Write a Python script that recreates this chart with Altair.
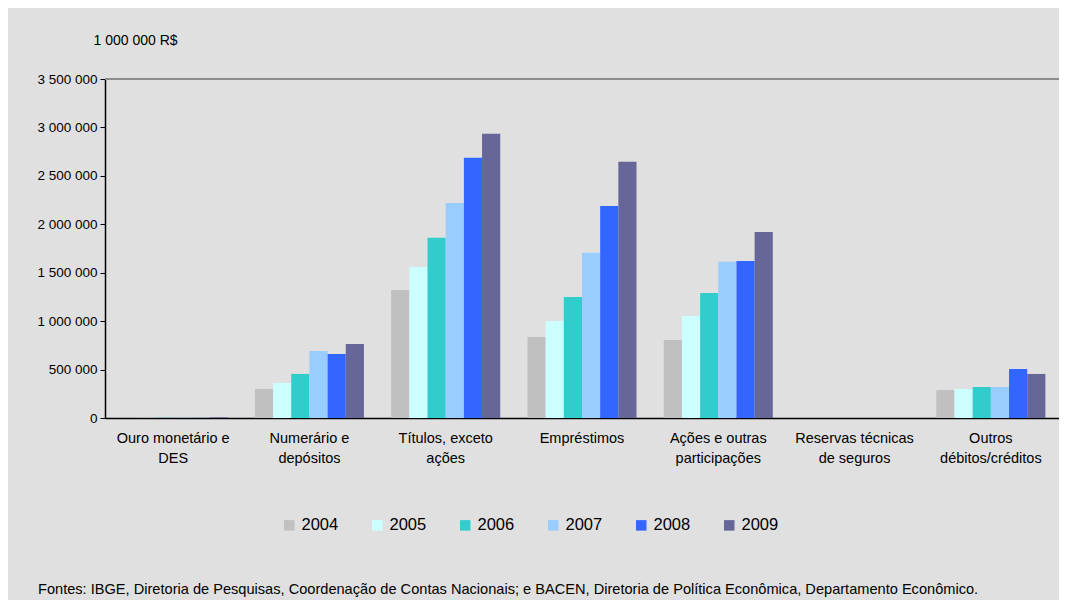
import altair as alt
import pandas as pd

categories = [
    "Ouro monetário e|DES",
    "Numerário e|depósitos",
    "Títulos, exceto|ações",
    "Empréstimos",
    "Ações e outras|participações",
    "Reservas técnicas|de seguros",
    "Outros|débitos/créditos",
]
years = ["2004", "2005", "2006", "2007", "2008", "2009"]
v2004 = [1500, 300000, 1322000, 837000, 806000, 0, 289000]
v2005 = [1500, 362000, 1560000, 1002000, 1054000, 0, 300000]
v2006 = [1500, 455000, 1860000, 1250000, 1291000, 0, 320000]
v2007 = [1500, 692000, 2221000, 1705000, 1612000, 0, 320000]
v2008 = [1500, 661000, 2686000, 2190000, 1622000, 0, 506000]
v2009 = [8000, 764000, 2934000, 2645000, 1921000, 0, 455000]
colors = ["#C0C0C0", "#CCFFFF", "#33CCCC", "#99CCFF", "#3366FF", "#666699"]
y_ticks = [0, 500000, 1000000, 1500000, 2000000, 2500000, 3000000, 3500000]
unit_title = "1 000 000 R$"
footer_text = ("Fontes: IBGE, Diretoria de Pesquisas, Coordenação de Contas Nacionais; "
               "e BACEN, Diretoria de Política Econômica, Departamento Econômico.")

series = [v2004, v2005, v2006, v2007, v2008, v2009]
rows = []
for yr, vals in zip(years, series):
    for cat, v in zip(categories, vals):
        rows.append({"categoria": cat, "ano": yr, "valor": v})
df = pd.DataFrame(rows)

FONT = "Liberation Sans"

bars = alt.Chart(df).mark_bar().encode(
    x=alt.X(
        "categoria:N",
        sort=categories,
        scale=alt.Scale(paddingInner=0.2, paddingOuter=0.1),
        axis=alt.Axis(
            title=None,
            labelExpr="split(datum.label, '|')",
            labelAngle=0,
            labelFontSize=14.5,
            labelColor="black",
            labelPadding=13,
            labelLineHeight=20,
            labelBaseline="top",
            ticks=False,
            domainColor="black",
            domainWidth=1.5,
        ),
    ),
    xOffset=alt.XOffset("ano:N", sort=years),
    y=alt.Y(
        "valor:Q",
        scale=alt.Scale(domain=[0, 3500000], nice=False),
        axis=alt.Axis(
            values=y_ticks,
            grid=False,
            title=unit_title,
            titleAngle=0,
            titleAlign="left",
            titleBaseline="middle",
            titleX=-12,
            titleY=-39,
            titleFontSize=14,
            titleFontWeight="normal",
            titleColor="black",
            labelExpr="replace(format(datum.value, ','), /,/g, ' ')",
            labelFontSize=13.5,
            labelColor="black",
            labelPadding=3,
            tickColor="black",
            tickSize=5,
            domainColor="black",
            domainWidth=1.5,
        ),
    ),
    color=alt.Color(
        "ano:N",
        sort=years,
        scale=alt.Scale(domain=years, range=colors),
        legend=alt.Legend(
            title=None,
            orient="none",
            direction="horizontal",
            legendX=176,
            legendY=438,
            symbolType="square",
            symbolSize=110,
            symbolStrokeWidth=0,
            labelFontSize=16.5,
            labelColor="black",
            labelOffset=4,
            columnPadding=30,
        ),
    ),
)

top_rule = alt.Chart(pd.DataFrame({"y": [3500000]})).mark_rule(
    color="#8C8C8C", strokeWidth=2
).encode(y="y:Q")

footer = alt.Chart(pd.DataFrame({"t": [footer_text]})).mark_text(
    align="left", baseline="middle", fontSize=14.6, color="black"
).encode(text="t:N", x=alt.value(38 - 105), y=alt.value(590 - 79))

chart = alt.layer(bars, top_rule, footer).properties(
    width=954,
    height=339,
    autosize=alt.AutoSizeParams(type="none"),
    padding={"left": 97, "top": 71, "right": 0, "bottom": 182},
    background="#E0E0E0",
).configure_view(fill="white", stroke=None).configure(font=FONT)

chart.save("out.html", embed_options={"renderer": "svg", "actions": False})
